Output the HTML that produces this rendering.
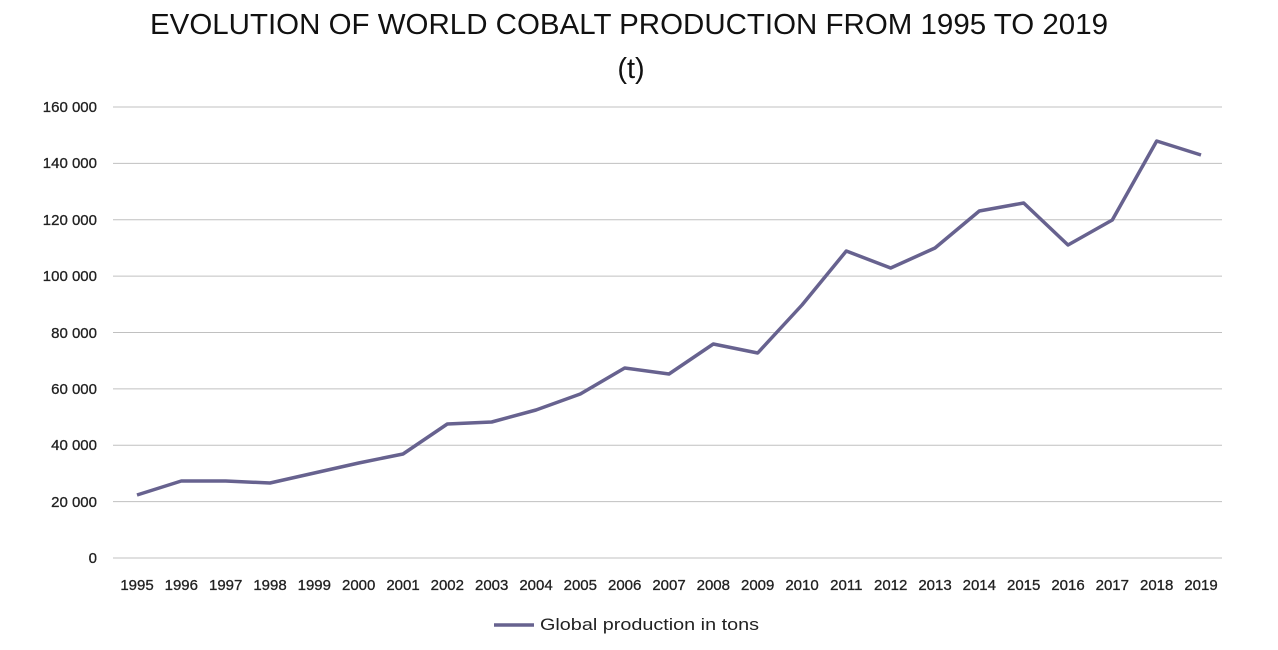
<!DOCTYPE html>
<html><head><meta charset="utf-8"><style>body{margin:0;background:#fff}svg{display:block}</style></head>
<body>
<svg width="1278" height="650" xmlns="http://www.w3.org/2000/svg" font-family="Liberation Sans, sans-serif">
<text x="629" y="34" font-size="29" text-anchor="middle" fill="#111" textLength="958" lengthAdjust="spacingAndGlyphs">EVOLUTION OF WORLD COBALT PRODUCTION FROM 1995 TO 2019</text>
<text x="631" y="78" font-size="29" text-anchor="middle" fill="#111">(t)</text>
<g stroke="#c0c0c0" stroke-width="1">
<line x1="113" x2="1222" y1="107" y2="107"/><line x1="113" x2="1222" y1="163.4" y2="163.4"/>
<line x1="113" x2="1222" y1="219.8" y2="219.8"/><line x1="113" x2="1222" y1="276.1" y2="276.1"/>
<line x1="113" x2="1222" y1="332.5" y2="332.5"/><line x1="113" x2="1222" y1="388.9" y2="388.9"/>
<line x1="113" x2="1222" y1="445.3" y2="445.3"/><line x1="113" x2="1222" y1="501.6" y2="501.6"/>
<line x1="113" x2="1222" y1="558" y2="558"/>
</g>
<g font-size="15" fill="#222" stroke="#222" stroke-width="0.3" text-anchor="end">
<text x="97" y="112">160 000</text><text x="97" y="168">140 000</text><text x="97" y="225">120 000</text>
<text x="97" y="281">100 000</text><text x="97" y="338">80 000</text><text x="97" y="394">60 000</text>
<text x="97" y="450">40 000</text><text x="97" y="507">20 000</text><text x="97" y="563">0</text>
</g>
<g font-size="15" fill="#222" stroke="#222" stroke-width="0.3" text-anchor="middle">
<text x="137" y="590">1995</text><text x="181.3" y="590">1996</text><text x="225.7" y="590">1997</text><text x="270" y="590">1998</text><text x="314.3" y="590">1999</text><text x="358.7" y="590">2000</text><text x="403" y="590">2001</text><text x="447.3" y="590">2002</text><text x="491.7" y="590">2003</text><text x="536" y="590">2004</text><text x="580.3" y="590">2005</text><text x="624.7" y="590">2006</text><text x="669" y="590">2007</text><text x="713.3" y="590">2008</text><text x="757.7" y="590">2009</text><text x="802" y="590">2010</text><text x="846.3" y="590">2011</text><text x="890.7" y="590">2012</text><text x="935" y="590">2013</text><text x="979.3" y="590">2014</text><text x="1023.7" y="590">2015</text><text x="1068" y="590">2016</text><text x="1112.3" y="590">2017</text><text x="1156.7" y="590">2018</text><text x="1201" y="590">2019</text>
</g>
<polyline fill="none" stroke="#67628f" stroke-width="3.5" stroke-linejoin="round" points="137,495 181.3,481 225.7,481 270,483 314.3,473 358.7,463 403,454 447.3,424 491.7,422 536,410 580.3,394 624.7,368 669,374 713.3,344 757.7,353 802,305 846.3,251 890.7,268 935,248 979.3,211 1023.7,203 1068,245 1112.3,220 1156.7,141 1201,155"/>
<line x1="494" x2="534" y1="625" y2="625" stroke="#67628f" stroke-width="3.5"/>
<text x="540" y="630" font-size="17" fill="#222" textLength="219" lengthAdjust="spacingAndGlyphs">Global production in tons</text>
</svg>
</body></html>
